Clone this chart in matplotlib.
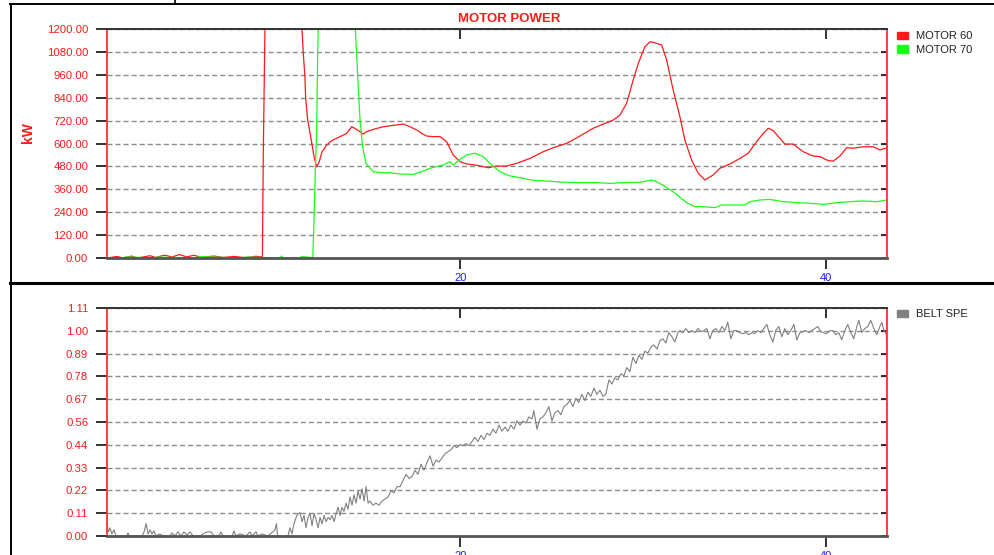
import matplotlib
matplotlib.use('Agg')
import matplotlib.pyplot as plt
from matplotlib.patches import Patch
from matplotlib.lines import Line2D

plt.rcParams['font.family'] = ['Liberation Sans', 'DejaVu Sans']

# ---------------- data ----------------
motor60_t = [0.64, 1.2, 1.5, 2.0, 2.3, 3.0, 3.3, 3.8, 4.2, 4.6,
             5.0, 5.4, 5.8, 6.5, 7.0, 7.6, 8.2, 8.8, 9.15, 9.20,
             9.29, 9.35, 11.26, 11.32, 11.39, 11.48, 11.52, 11.63, 11.76, 11.98,
             12.12, 12.25, 12.41, 12.67, 12.95, 13.40, 13.77, 14.04, 14.31, 14.68,
             14.86, 15.22, 15.77, 16.32, 16.87, 17.23, 17.60, 17.87, 18.15, 18.51,
             18.88, 19.24, 19.60, 19.97, 20.34, 20.89, 21.52, 21.98, 22.53, 23.08,
             23.81, 24.53, 25.08, 25.82, 26.54, 27.27, 27.82, 28.37, 28.73, 29.10,
             29.28, 29.46, 29.74, 30.10, 30.38, 30.56, 31.02, 31.29, 31.65, 32.02,
             32.29, 32.66, 33.02, 33.39, 33.84, 34.21, 34.76, 35.31, 35.76, 36.22,
             36.58, 36.86, 37.13, 37.77, 38.22, 38.77, 39.32, 39.69, 40.14, 40.42,
             40.78, 41.15, 41.51, 42.06, 42.61, 42.97, 43.36]
motor60_kw = [0, 8, 0, 10, 0, 12, 3, 15, 5, 18,
              6, 14, 4, 10, 3, 8, 2, 9, 5, 548,
              1200, 1400, 1400, 1200, 1072, 950, 837, 723, 655, 531,
              478, 500, 555, 592, 615, 636, 653, 688, 674, 650,
              662, 674, 688, 695, 702, 688, 671, 653, 639, 636,
              636, 610, 540, 505, 493, 486, 473, 482, 482, 496,
              522, 557, 578, 601, 639, 680, 702, 723, 749, 811,
              872, 933, 1020, 1107, 1133, 1130, 1116, 1038, 880, 740,
              618, 513, 444, 409, 435, 470, 493, 522, 549, 610,
              653, 680, 667, 597, 597, 557, 534, 531, 510, 508,
              534, 578, 575, 583, 583, 566, 578]

motor70_t = [0.64, 1.5, 1.7, 3.2, 3.4, 5.5, 5.7, 8.0, 8.2, 10.1,
             10.2, 10.3, 11.2, 11.3, 11.91, 11.98, 12.05, 12.12, 12.18, 12.21,
             12.25, 14.19, 14.24, 14.31, 14.40, 14.50, 14.64, 14.82, 15.22, 15.77,
             16.14, 16.69, 17.41, 17.87, 18.33, 18.88, 19.06, 19.42, 19.60, 19.97,
             20.34, 20.79, 21.25, 21.61, 22.16, 22.71, 23.44, 23.81, 24.72, 25.63,
             26.54, 27.46, 28.19, 28.92, 29.83, 30.47, 30.74, 31.11, 31.65, 32.39,
             32.84, 33.30, 33.94, 34.30, 35.13, 35.58, 35.85, 36.40, 36.94, 37.68,
             38.41, 39.14, 39.87, 40.60, 41.33, 42.06, 42.79, 43.36]
motor70_kw = [0, 0, 6, 0, 5, 0, 7, 0, 5, 0,
              10, 0, 0, 8, 2, 199, 461, 653, 1074, 1200,
              1400, 1400, 1200, 1072, 898, 723, 583, 496, 452, 447,
              447, 440, 438, 452, 470, 484, 487, 505, 487, 517,
              540, 549, 531, 496, 452, 430, 418, 409, 403, 397,
              395, 395, 391, 395, 397, 409, 400, 380, 347, 290,
              269, 269, 264, 278, 278, 278, 295, 304, 307, 295,
              290, 287, 281, 290, 295, 299, 295, 304]

belt_t = [0.64, 0.72, 0.80, 0.91, 1.02, 1.13, 1.74, 1.79, 1.84, 2.56,
          2.67, 2.78, 2.89, 3.00, 3.10, 3.21, 3.32, 3.54, 3.71, 4.09,
          4.20, 4.36, 4.53, 4.69, 4.86, 5.02, 5.19, 5.35, 5.73, 5.90,
          6.12, 6.34, 6.50, 6.77, 6.88, 6.99, 7.49, 7.60, 7.70, 7.92,
          8.25, 8.47, 8.58, 8.80, 8.91, 9.13, 9.46, 9.84, 9.92, 9.98,
          10.55, 10.66, 10.77, 10.88, 11.04, 11.21, 11.32, 11.43, 11.54, 11.65,
          11.76, 11.87, 11.98, 12.09, 12.20, 12.31, 12.42, 12.53, 12.64, 12.75,
          12.86, 12.97, 13.08, 13.19, 13.30, 13.40, 13.51, 13.62, 13.73, 13.84,
          13.95, 14.06, 14.17, 14.28, 14.39, 14.50, 14.61, 14.72, 14.83, 14.94,
          15.04, 15.21, 15.37, 15.54, 15.70, 15.87, 16.03, 16.20, 16.36, 16.52,
          16.69, 16.85, 17.02, 17.18, 17.35, 17.51, 17.67, 17.84, 18.00, 18.17,
          18.33, 18.50, 18.66, 18.82, 18.99, 19.15, 19.32, 19.48, 19.65, 19.81,
          19.97, 20.14, 20.30, 20.47, 20.63, 20.79, 20.96, 21.12, 21.29, 21.45,
          21.61, 21.78, 21.94, 22.11, 22.27, 22.44, 22.60, 22.76, 22.93, 23.09,
          23.26, 23.42, 23.58, 23.75, 23.91, 24.02, 24.19, 24.35, 24.51, 24.68,
          24.84, 25.01, 25.17, 25.34, 25.50, 25.66, 25.83, 25.99, 26.16, 26.32,
          26.48, 26.65, 26.81, 26.98, 27.14, 27.31, 27.47, 27.64, 27.80, 27.96,
          28.13, 28.29, 28.46, 28.62, 28.79, 28.95, 29.11, 29.28, 29.44, 29.61,
          29.77, 29.94, 30.10, 30.26, 30.43, 30.59, 30.76, 30.92, 31.08, 31.25,
          31.41, 31.58, 31.74, 31.91, 32.02, 32.18, 32.34, 32.51, 32.67, 32.84,
          33.00, 33.17, 33.33, 33.49, 33.66, 33.82, 33.99, 34.15, 34.32, 34.48,
          34.64, 34.81, 34.97, 35.14, 35.30, 35.46, 35.63, 35.79, 35.96, 36.12,
          36.28, 36.45, 36.61, 36.78, 36.94, 37.11, 37.27, 37.43, 37.60, 37.76,
          37.93, 38.09, 38.26, 38.42, 38.59, 38.75, 38.91, 39.08, 39.24, 39.41,
          39.57, 39.73, 39.90, 40.06, 40.23, 40.39, 40.56, 40.72, 40.88, 41.05,
          41.21, 41.38, 41.54, 41.71, 41.82, 41.98, 42.14, 42.31, 42.47, 42.64,
          42.80, 42.97, 43.08, 43.19, 43.30, 43.36]
belt_v = [0.05, 0.02, 0.04, 0.01, 0.03, 0.00, 0.00, 0.015, 0.00, 0.00,
          0.02, 0.06, 0.01, 0.03, 0.01, 0.025, 0.00, 0.01, 0.00, 0.00,
          0.015, 0.00, 0.02, 0.00, 0.02, 0.005, 0.02, 0.00, 0.00, 0.01,
          0.02, 0.02, 0.00, 0.00, 0.02, 0.00, 0.00, 0.025, 0.00, 0.01,
          0.00, 0.02, 0.00, 0.02, 0.00, 0.01, 0.00, 0.03, 0.06, 0.00,
          0.00, 0.04, 0.01, 0.06, 0.10, 0.115, 0.07, 0.10, 0.04, 0.09,
          0.11, 0.05, 0.11, 0.08, 0.04, 0.09, 0.06, 0.10, 0.07, 0.09,
          0.08, 0.10, 0.07, 0.11, 0.14, 0.10, 0.14, 0.12, 0.16, 0.13,
          0.19, 0.15, 0.20, 0.16, 0.22, 0.18, 0.23, 0.17, 0.24, 0.16,
          0.17, 0.15, 0.16, 0.15, 0.17, 0.18, 0.19, 0.22, 0.21, 0.24,
          0.24, 0.27, 0.30, 0.28, 0.29, 0.32, 0.30, 0.35, 0.32, 0.36,
          0.39, 0.34, 0.37, 0.36, 0.38, 0.40, 0.41, 0.42, 0.44, 0.43,
          0.445, 0.44, 0.45, 0.44, 0.46, 0.48, 0.46, 0.49, 0.47, 0.50,
          0.49, 0.52, 0.50, 0.54, 0.51, 0.53, 0.51, 0.54, 0.52, 0.56,
          0.54, 0.56, 0.55, 0.58, 0.57, 0.61, 0.52, 0.57, 0.58, 0.60,
          0.63, 0.56, 0.60, 0.61, 0.59, 0.63, 0.64, 0.66, 0.63, 0.67,
          0.65, 0.69, 0.66, 0.70, 0.68, 0.72, 0.69, 0.71, 0.68, 0.69,
          0.76, 0.74, 0.77, 0.76, 0.79, 0.78, 0.82, 0.80, 0.87, 0.84,
          0.88, 0.86, 0.90, 0.89, 0.92, 0.93, 0.91, 0.95, 0.96, 0.94,
          0.99, 0.97, 0.945, 0.99, 1.00, 0.99, 1.01, 0.99, 1.00, 0.99,
          1.01, 0.995, 1.00, 1.01, 0.96, 1.00, 1.01, 0.99, 1.02, 1.00,
          1.04, 0.96, 1.00, 1.00, 0.99, 0.985, 0.99, 0.98, 0.99, 0.985,
          1.00, 0.99, 1.01, 1.03, 0.98, 0.945, 1.00, 1.02, 0.97, 1.01,
          0.98, 1.00, 1.03, 0.955, 0.99, 0.995, 1.00, 0.99, 1.00, 1.01,
          1.02, 0.995, 0.99, 0.985, 1.00, 1.00, 0.98, 0.99, 0.955, 1.00,
          1.03, 0.99, 0.96, 1.02, 1.05, 0.99, 1.01, 1.02, 1.05, 1.01,
          0.98, 1.02, 1.04, 1.00, 0.99, 0.945]

power_ticks = [0, 120, 240, 360, 480, 600, 720, 840, 960, 1080, 1200]
power_labels = ['0.00', '120.00', '240.00', '360.00', '480.00', '600.00',
                '720.00', '840.00', '960.00', '1080.00', '1200.00']
speed_ticks = [0.0, 0.111, 0.222, 0.333, 0.444, 0.555, 0.666, 0.777, 0.888, 0.999, 1.11]
speed_labels = ['0.00', '0.11', '0.22', '0.33', '0.44', '0.56', '0.67',
                '0.78', '0.89', '1.00', '1.11']
x_ticks = [20, 40]
x_labels = ['20', '40']
x_range = (0.64, 43.36)

series_names = ['MOTOR 60', 'MOTOR 70']
series_colors = ['#ff1a1a', '#1aff1a']
belt_name = 'BELT SPE'
belt_color = '#808080'

# ---------------- figure ----------------
W, H = 995, 555
fig = plt.figure(figsize=(W / 100, H / 100), dpi=100)


def rect(l, t, r, b):
    return [l / W, 1 - b / H, (r - l) / W, (b - t) / H]


ax1 = fig.add_axes(rect(107, 29, 887, 258))
ax2 = fig.add_axes(rect(107, 308, 887, 536))


def style(ax, yticks, ylabels):
    ax.set_xlim(*x_range)
    ax.set_ylim(yticks[0], yticks[-1])
    ax.set_yticks(yticks)
    ax.set_yticklabels(ylabels)
    ax.set_xticks(x_ticks)
    ax.set_xticklabels(x_labels)
    ax.set_xticks(x_ticks, minor=True)
    ax.set_yticks(yticks, minor=True)
    ax.xaxis.remove_overlapping_locs = False
    ax.yaxis.remove_overlapping_locs = False
    ax.tick_params(axis='y', which='major', direction='out', length=8, width=1.3,
                   color='#222222', labelcolor='#ff1a1a', labelsize=8.2, pad=5.5,
                   left=True, right=False)
    ax.tick_params(axis='y', which='minor', direction='in', length=4, width=1.3,
                   color='#222222', left=False, right=True, labelright=False)
    ax.tick_params(axis='x', which='major', direction='out', length=8, width=1.3,
                   color='#222222', labelcolor='#1a1aff', labelsize=8, pad=3,
                   bottom=True, top=False)
    ax.tick_params(axis='x', which='minor', direction='in', length=7, width=1.3,
                   color='#222222', bottom=False, top=True, labeltop=False)
    for s in ('left', 'right'):
        ax.spines[s].set_color('#ff3030')
        ax.spines[s].set_linewidth(1.3)
    ax.spines['top'].set_color('#333333')
    ax.spines['top'].set_linewidth(1.4)
    ax.spines['bottom'].set_color('#555555')
    ax.spines['bottom'].set_linewidth(2.0)
    ax.set_axisbelow(True)
    ax.yaxis.grid(True, which='major', color='#8c8c8c', linewidth=1.0,
                  linestyle=(0, (3.6, 2.2)))


style(ax1, power_ticks, power_labels)
style(ax2, speed_ticks, speed_labels)

ax1.plot(motor60_t, motor60_kw, color=series_colors[0], lw=0.9)
ax1.plot(motor70_t, motor70_kw, color=series_colors[1], lw=0.9)
ax2.plot(belt_t, belt_v, color=belt_color, lw=0.8)

ax1.set_title('MOTOR POWER', color='#ff1a1a', fontweight='bold', fontsize=9.5,
              x=0.515, pad=5)
ax1.set_ylabel('kW', color='#ff1a1a', fontweight='bold', fontsize=10)
ax1.yaxis.set_label_coords((27.5 - 107) / 780, (258 - 133) / 229)
ax1.yaxis.label.set_va('center')

leg1 = ax1.legend(handles=[Patch(color=c, label=n) for n, c in zip(series_names, series_colors)],
                  loc='upper left', bbox_to_anchor=(897 / W, 1 - 31 / H),
                  bbox_transform=fig.transFigure, frameon=False, fontsize=8,
                  handlelength=1.0, handleheight=0.6, handletextpad=0.7,
                  labelspacing=0.35, borderpad=0, borderaxespad=0)
for t in leg1.get_texts():
    t.set_color('#222222')
leg2 = ax2.legend(handles=[Patch(color=belt_color, label=belt_name)],
                  loc='upper left', bbox_to_anchor=(897 / W, 1 - 309 / H),
                  bbox_transform=fig.transFigure, frameon=False, fontsize=8,
                  handlelength=1.0, handleheight=0.6, handletextpad=0.7,
                  borderpad=0, borderaxespad=0)
for t in leg2.get_texts():
    t.set_color('#222222')

# panel frames
fig.add_artist(Line2D([10 / W, 1], [1 - 4.3 / H] * 2, transform=fig.transFigure,
                      color='black', lw=1.4))
fig.add_artist(Line2D([10.8 / W] * 2, [0, 1 - 4.3 / H], transform=fig.transFigure,
                      color='black', lw=1.4))
fig.add_artist(Line2D([10 / W, 1], [1 - 282.5 / H] * 2, transform=fig.transFigure,
                      color='black', lw=2.2))
fig.add_artist(Line2D([175 / W] * 2, [1 - 4.3 / H, 1], transform=fig.transFigure,
                      color='black', lw=1.2))

fig.savefig('out.png', dpi=100, facecolor='white')
